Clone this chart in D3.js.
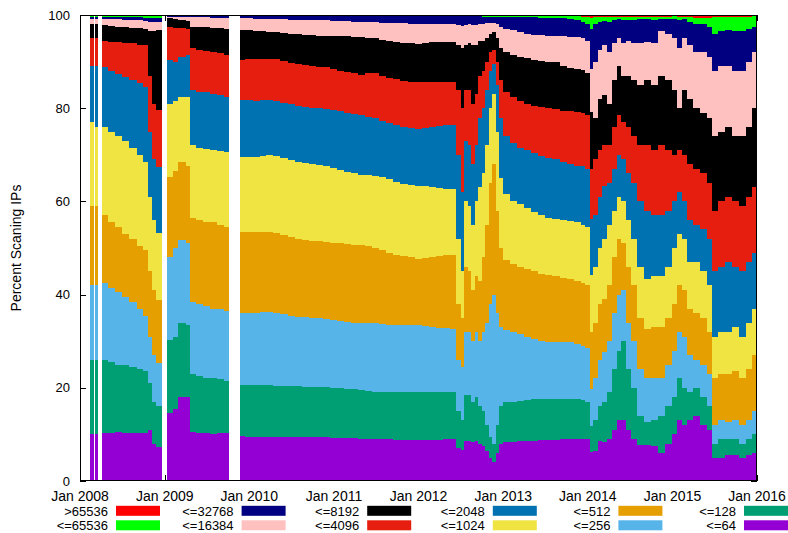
<!DOCTYPE html>
<html><head><meta charset="utf-8">
<script src="https://cdn.jsdelivr.net/npm/d3@7"></script>
<style>
body{margin:0;background:#fff}
svg{display:block}
text{font-family:"Liberation Sans",Arial,Helvetica,sans-serif;fill:#000}
</style>
</head><body>
<svg id="chart" width="788" height="533"></svg>
<script>
// ---- data (percent of scanning IPs per port-count bucket) ----
const dates = [
"2008-02-14","2008-02-29","2008-03-06","2008-03-17","2008-04-04","2008-05-01","2008-06-01","2008-07-01","2008-08-01","2008-09-01","2008-10-01","2008-10-22","2008-11-08","2008-11-25","2008-12-22",
"2009-01-09","2009-02-05","2009-03-01","2009-04-01","2009-04-20","2009-05-15","2009-06-15","2009-07-15","2009-08-15","2009-09-15","2009-10-07","2009-11-23","2009-12-15",
"2010-01-15","2010-02-15","2010-03-15","2010-04-15","2010-05-15","2010-06-15","2010-07-15","2010-08-15","2010-09-15","2010-10-15","2010-11-15","2010-12-15",
"2011-01-15","2011-02-15","2011-03-15","2011-04-15","2011-05-15","2011-06-15","2011-07-15","2011-08-15","2011-09-15","2011-10-15","2011-11-15","2011-12-15",
"2012-01-15","2012-02-15","2012-03-15","2012-04-15","2012-05-15",
"2012-06-10","2012-07-01","2012-07-15","2012-08-01","2012-08-15","2012-09-01","2012-09-15","2012-10-01","2012-10-15","2012-11-01","2012-11-15","2012-12-01","2012-12-15",
"2013-01-01","2013-02-01","2013-03-01","2013-04-01","2013-05-01","2013-06-01","2013-07-01","2013-08-01","2013-09-01","2013-10-01","2013-11-01","2013-12-01","2013-12-20",
"2014-01-10","2014-01-25","2014-02-15","2014-03-05","2014-03-25","2014-04-15","2014-05-05","2014-05-25","2014-06-15","2014-07-05","2014-08-01","2014-09-01","2014-10-01","2014-11-01","2014-12-01",
"2015-01-01","2015-01-20","2015-02-10","2015-03-05","2015-04-01","2015-05-01","2015-06-01","2015-06-20","2015-07-15","2015-08-15","2015-09-15","2015-10-15","2015-11-15","2015-12-10"
];
const endDate = "2016-01-01";

const le64 = [
10,null,10,null,10.2,10.3,10.5,10.4,10.3,10.2,10.2,11,8,7.3,null,
14.6,15.5,18,18,10.5,10.3,10.2,10.1,10.2,10.2,null,9.6,9.5,
9.5,9.5,9.4,9.4,9.4,9.4,9.4,9.4,9.4,9.4,9.4,9.3,9.3,9.2,9.2,9.1,9.1,9.1,9,9,8.9,8.8,8.8,8.7,8.7,8.8,8.9,9,9.1,
7,6.7,8.5,8.5,8.3,8.5,8,7.5,6.5,5,4,6,8,
8.3,8.4,8.5,8.6,8.6,8.7,8.7,8.8,9,9.1,9.1,9,9,
6.2,6.5,8.5,8.4,9,11,13,13,11,9,7.7,7.7,7.5,6,8,
10,13,12,13,14,12,11,5,5,5.5,5.6,5,5.5,6
];
const le128 = [
16,null,16,null,15.8,15.2,14.5,14.6,14.2,13.8,13.3,10,9,8.7,null,
15.7,15.5,16,15.5,12.5,12.2,11.8,11.9,11.6,11.3,null,10.9,11,
11,11,11.1,11,11,10.9,10.9,10.8,10.8,10.8,10.8,10.7,10.6,10.6,10.5,10.4,10.3,10.1,10.2,10.1,10.2,10.3,10.3,10.4,10.4,10.4,10.3,10.1,10,
8,6.3,10,10,8.7,9.5,8,7.5,5.5,4.5,4,6,8,
8.7,8.6,8.7,8.8,8.9,8.9,9,8.9,8.7,8.6,8.4,8.3,8,
5.7,6.5,7.5,8.6,10,13,15,17,13,11,6.3,5,5.5,8,8,
8,9,8,6,6,6,5,3,4,3.5,3.4,3,3.5,4
];
const le256 = [
16,null,16,null,16.5,16,15.5,14.5,14,13,12,10,10,9.3,null,
17.7,19,17.7,17.5,15.5,15.5,15.5,15,15.2,15,null,15.5,15.5,
15.6,15.7,15.8,15.6,15.4,15.2,15,14.9,14.8,14.7,14.6,14.6,14.5,14.4,14.3,14.3,14.4,14.6,14.4,14.4,14.4,14.3,14.3,14.3,14.2,13.9,13.7,13.7,13.6,
11,11.5,13.5,13.5,13,14,14,17,22,28.5,32,24,17,
15.5,15,14.3,13.6,13,12.4,12.1,12.1,12.1,12.1,12,11.7,11.5,
7.9,9,10,10.7,11,12,12,11,10,10,10,9.3,9,8,9,
10,10,11,8,6,7,7,4,4,3.7,4,4,4,5
];
const le512 = [
17,null,17,null,14.5,14,14,13.5,13.5,13.5,14,14,14,13.5,null,
17.2,16.5,16.8,16.5,18,18,18,18.5,18,18,null,17.5,17.5,
17.4,17.3,17.1,17.2,17,16.8,16.7,16.7,16.6,16.5,16.5,16.5,16.6,16.6,16.7,16.8,16.6,16.2,15.9,15.5,15,14.8,14.6,14.3,14.5,14.9,15.3,15.6,15.7,
12,10.5,14,13,11,12,13,16,21,26,28,22,17,
15,14.5,14.5,14.5,14.5,14.5,14.3,14.2,13.7,13.6,13.5,13.5,13.5,
12.2,12,12,11.4,12,12,12,10,12,12,11,10.7,11,11,10,
10,10,10,10,10,10,9,10,10,10.3,10.5,10,11,12
];
const le1024 = [
18,null,17,null,19,19.5,19.5,20,19.5,19.5,19,16,15,14.4,null,
15.8,15,14,15,15.5,15.5,15.8,15.5,15.8,16,null,16,16,
16.1,16.2,16.5,16.5,16.5,16.5,16.5,16.4,16.4,16.4,16.4,16.1,15.8,15.6,15.3,15.1,15.2,15.5,15.7,15.7,15.7,15.6,15.6,15.7,15.4,15,14.6,14.3,14.3,
14,10,14,14,14,16,20,18,17,16,15,17,15,
14,13.5,13.5,13,12.8,12.5,12.4,12.3,12.5,12.4,12.6,12.5,12.5,
12.1,12,12,12.9,13,10,9,9,10,10,11,10.7,11,11,11,
12,11,11,10,11,10,10,9,9,9,9.5,9,10,10
];
const le2048 = [
12,null,13,null,12.8,13,13.3,13.7,14.5,15.5,16,14,13,14.2,null,
9.3,8.5,8.5,9,12,12,12.2,12,12,12,null,12.3,12.2,
12,12,11.8,11.8,11.9,12,12,12.1,12.1,12.2,12.2,12.4,12.5,12.6,12.8,12.8,12.6,12.3,12.1,12.1,12.1,12.2,12.2,12.2,12.6,13,13.4,13.6,13.6,
18,17,13,13,13,12,15,14,12,8,6.5,10,13,
12.5,12.5,12,12.5,12.5,12.8,12.9,12.9,12.5,12.2,12.1,12.5,12.5,
12.2,11,11,11.4,9,9,9,9,10,12,14,14.6,13,13,12,
10,9,8,9,8,9,10,14,14,15,13,14,13,12
];
const le4096 = [
6,null,6,null,5.7,6.2,6.9,7.3,8,8.1,9,12,12,12.2,null,
7.2,7.3,6.2,5.5,9,9,8.8,9,9,9,null,8.6,8.8,
8.9,8.9,8.9,9,9,9,9,8.9,8.9,8.8,8.9,8.8,8.7,8.8,8.7,8.7,9.3,9.7,9.7,9.7,9.9,9.9,9.9,10,9.8,9.6,9.4,9.3,9.3,
14,18,11,12,13,11,9,8,6,4,3,5,8,
9.5,10,10,10,10.2,10.4,10.6,10.7,11,11.3,11.5,11.5,11.5,
10.7,12,10,8.6,8,9,8.5,8,10,10,12,14,14,15,13,
10,9,10,12,12,12,12,13,14,14,14,14,14,14
];
const le8192 = [
3,null,3,null,3.3,3.4,3.3,3.4,3.3,3.6,3.5,9.5,15.5,17.2,null,
1.8,1.9,1.8,1.8,4.5,4.9,5.1,5.2,5.4,5.5,null,6.4,6.2,
6.1,5.9,5.8,5.8,6,6.2,6.4,6.6,6.7,6.8,6.8,7.1,7.4,7.6,7.8,8.1,7.6,7.5,7.7,7.9,8,8.1,8.2,8.2,8.4,8.6,8.6,8.6,8.6,
9.5,13,9.5,10,12.5,10.5,7.5,6.5,5,4,3.8,5,7,
8.5,9,9.5,9.7,9.9,9.9,9.9,10,9.5,9.4,9.3,9.2,9,
12.2,9,11,10.8,9,10,10.5,10,11,12,13,14,14,15,15,
14,9,14,14,13,13,14,16,15,15,14,15,15,17
];
const le16384 = [
1.2,null,1.2,null,1.4,1.5,1.6,1.6,1.7,1.7,1.8,2.1,2.1,1.8,null,
0.3,0.4,0.5,0.7,2,2.1,2.1,2.2,2.2,2.4,null,2.5,2.6,
2.6,2.7,2.8,2.8,2.9,3,3.1,3.1,3.2,3.3,3.3,3.3,3.3,3.3,3.3,3.2,3.4,3.4,3.6,3.9,4,4.2,4.2,4.3,4.1,3.9,3.9,3.9,3.9,
4.3,4.7,4.3,4,4.3,4.3,3.5,3.5,3.2,2.3,2,3,4.5,
5,5.2,5.3,5.3,5.4,5.6,5.7,5.7,6.4,6.5,6.7,6.8,7,
9.3,12,10.5,10.7,11,8,6,7,7.5,8,9,8.2,9,9.5,10,
11,13,11,11.6,12,13,13,14,14,13,14,14,14,12
];
const le32768 = [
0.4,null,0.4,null,0.4,0.5,0.5,0.5,0.5,0.6,0.6,0.7,0.7,0.7,null,
0.2,0.2,0.3,0.3,0.3,0.3,0.3,0.4,0.4,0.4,null,0.5,0.5,
0.6,0.6,0.7,0.8,0.8,0.9,0.9,1,1,1,1,1.1,1.2,1.2,1.3,1.4,1.4,1.5,1.6,1.6,1.7,1.7,1.8,1.8,1.8,1.8,1.8,1.8,1.8,
1.9,2,1.9,1.7,1.9,1.9,1.7,1.6,1.4,1.3,1.3,1.6,2,
2.5,2.8,3.2,3.5,3.7,3.7,3.8,3.8,3.9,4,3.8,3.5,3.5,
8.5,8,6,5.3,6.5,5,4.2,5,4.5,5,5.2,5,5,2.7,3.2,
4.2,6,4.2,4.9,6,6,6.5,8,7.5,7.8,8.5,8.5,7,5.5
];
const le65536 = [
0.2,null,0.2,null,0.2,0.2,0.2,0.3,0.3,0.3,0.4,0.5,0.5,0.5,null,
0.1,0.1,0.1,0.1,0.1,0.1,0.1,0.1,0.1,0.1,null,0.1,0.1,
0.1,0.1,0.05,0.05,0.05,0.05,0.05,0.05,0.05,0.05,0.05,0.05,0.05,0.05,0.05,0.05,0.05,0.05,0.05,0.05,0.05,0.05,0.05,0.05,0.05,0.05,0.05,0.05,0.05,
0.2,0.2,0.2,0.2,0.2,0.2,0.2,0.3,0.3,0.3,0.3,0.3,0.4,
0.4,0.4,0.4,0.4,0.4,0.5,0.5,0.5,0.5,0.6,0.7,1.1,1.5,
2.3,1.5,1.1,0.8,1.1,0.6,0.4,0.6,0.6,0.6,0.4,0.4,0.6,0.4,0.4,
0.5,0.6,0.4,1,1.4,1.4,1.8,3.5,3.1,2.8,3.1,3.1,2.6,2.2
];
const gt65536 = [
0.2,null,0.2,null,0.2,0.2,0.2,0.2,0.2,0.2,0.2,0.2,0.2,0.2,null,
0.1,0.1,0.1,0.1,0.1,0.1,0.1,0.1,0.1,0.1,null,0.1,0.1,
0.1,0.1,0.05,0.05,0.05,0.05,0.05,0.05,0.05,0.05,0.05,0.05,0.05,0.05,0.05,0.05,0.05,0.05,0.05,0.05,0.05,0.05,0.05,0.05,0.05,0.05,0.05,0.05,0.05,
0.1,0.1,0.1,0.1,0.1,0.1,0.1,0.1,0.1,0.1,0.1,0.1,0.1,
0.1,0.1,0.1,0.1,0.1,0.1,0.1,0.1,0.2,0.2,0.3,0.4,0.5,
0.7,0.5,0.4,0.4,0.4,0.4,0.4,0.4,0.4,0.4,0.4,0.4,0.4,0.4,0.4,
0.3,0.4,0.4,0.5,0.6,0.6,0.7,0.5,0.4,0.4,0.4,0.4,0.4,0.3
];

// series, bottom to top
const seriesKeys   = ["le64","le128","le256","le512","le1024","le2048","le4096","le8192","le16384","le32768","le65536","gt65536"];
const seriesLabels = ["<=64","<=128","<=256","<=512","<=1024","<=2048","<=4096","<=8192","<=16384","<=32768","<=65536",">65536"];
const seriesColors = ["#9400d3","#009e73","#56b4e9","#e69f00","#f0e442","#0072b2","#e51e10","#000000","#ffc0c0","#000080","#00ff00","#ff0000"];
const seriesValues = [le64,le128,le256,le512,le1024,le2048,le4096,le8192,le16384,le32768,le65536,gt65536];

const xTickDates  = ["2008-01-01","2009-01-01","2010-01-01","2011-01-01","2012-01-01","2013-01-01","2014-01-01","2015-01-01","2016-01-01"];
const xTickLabels = ["Jan 2008","Jan 2009","Jan 2010","Jan 2011","Jan 2012","Jan 2013","Jan 2014","Jan 2015","Jan 2016"];
const yTicks = [0,20,40,60,80,100];
const yTitle = "Percent Scaning IPs";

// ---- build ----
const parse = d3.timeParse("%Y-%m-%d");
const M = {left:80, right:757, top:15, bottom:481};
const svg = d3.select("#chart");

const x = d3.scaleTime().domain([parse(xTickDates[0]), parse(xTickDates[xTickDates.length-1])]).range([M.left, M.right]);
const y = d3.scaleLinear().domain([0,100]).range([M.bottom, M.top]);

const rows = dates.map((d,i) => {
  const r = {date: parse(d), next: parse(i+1 < dates.length ? dates[i+1] : endDate), ok: le64[i] !== null};
  seriesKeys.forEach((k,j) => r[k] = seriesValues[j][i]);
  return r;
});

const stack = d3.stack().keys(seriesKeys).value((d,k) => d[k] == null ? 0 : d[k]).offset(d3.stackOffsetExpand);
const layers = stack(rows);

// ticks (drawn beneath the data, like the original)
const tk = svg.append("g").attr("stroke","#000").attr("stroke-width",1).attr("shape-rendering","crispEdges");
yTicks.forEach(v => {
  const yy = Math.round(y(v)) + 0.5;
  tk.append("line").attr("x1",M.left).attr("x2",M.left+6).attr("y1",yy).attr("y2",yy);
  tk.append("line").attr("x1",M.right-6).attr("x2",M.right).attr("y1",yy).attr("y2",yy);
});
xTickDates.forEach(d => {
  const xx = Math.round(x(parse(d))) + 0.5;
  tk.append("line").attr("x1",xx).attr("x2",xx).attr("y1",M.bottom).attr("y2",M.bottom-6);
  tk.append("line").attr("x1",xx).attr("x2",xx).attr("y1",M.top).attr("y2",M.top+6);
});

// stacked step areas
const area = d3.area()
  .defined(p => p !== null)
  .x(p => x(p.t))
  .y0(p => y(p.lo * 100))
  .y1(p => y(p.hi * 100));

const gData = svg.append("g").attr("shape-rendering","crispEdges");
layers.forEach((layer, j) => {
  const pts = [];
  layer.forEach((s, i) => {
    const r = rows[i];
    if (!r.ok) { pts.push(null); return; }
    pts.push({t: r.date, lo: s[0], hi: s[1]});
    pts.push({t: r.next, lo: s[0], hi: s[1]});
  });
  gData.append("path").attr("d", area(pts)).attr("fill", seriesColors[j]).attr("stroke", "none");
});

// border
svg.append("rect").attr("x",M.left+0.5).attr("y",M.top+0.5)
  .attr("width",M.right-M.left-1).attr("height",M.bottom-M.top-1)
  .attr("fill","none").attr("stroke","#000").attr("stroke-width",1).attr("shape-rendering","crispEdges");

// tick labels
yTicks.forEach(v => {
  svg.append("text").attr("x",70).attr("y",y(v)).attr("dy","0.35em")
    .attr("text-anchor","end").attr("font-size",13).text(v);
});
xTickDates.forEach((d,i) => {
  svg.append("text").attr("x",x(parse(d))).attr("y",501)
    .attr("text-anchor","middle").attr("font-size",14).text(xTickLabels[i]);
});
svg.append("text").attr("transform","translate(21,248) rotate(-90)")
  .attr("text-anchor","middle").attr("font-size",14).text(yTitle);

// legend: columns from top series downward, two per column
const legendOrder = seriesKeys.map((k,i) => i).reverse();
legendOrder.forEach((si, k) => {
  const col = Math.floor(k/2), row = k % 2;
  const tx = 108 + col*125.6;
  const base = row === 0 ? 515.8 : 530.3;
  svg.append("text").attr("x",tx).attr("y",base)
    .attr("text-anchor","end").attr("font-size",13).text(seriesLabels[si]);
  svg.append("rect").attr("x",tx+8).attr("y",base-10).attr("width",44).attr("height",10)
    .attr("fill",seriesColors[si]);
});
</script>
</body></html>
